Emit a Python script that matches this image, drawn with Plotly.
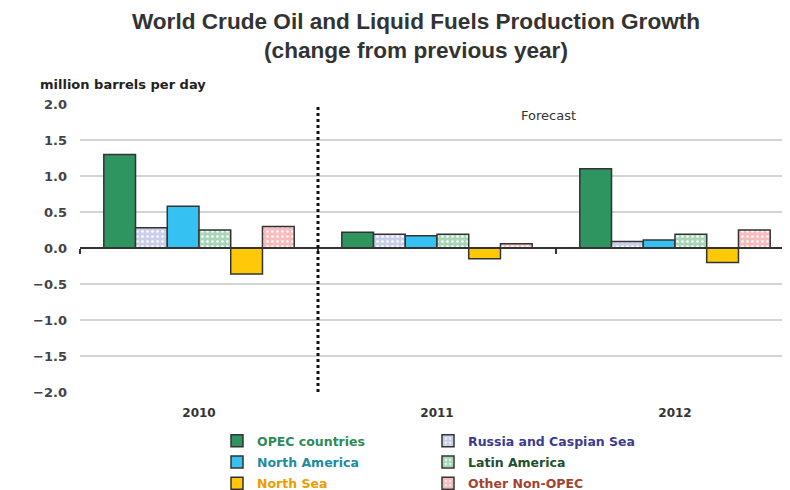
import plotly.graph_objects as go

years = ["2010", "2011", "2012"]
series_names = ["OPEC countries", "Russia and Caspian Sea", "North America",
                "Latin America", "North Sea", "Other Non-OPEC"]
opec = [1.30, 0.22, 1.10]
russia = [0.28, 0.19, 0.09]
north_america = [0.58, 0.17, 0.11]
latin_america = [0.25, 0.19, 0.19]
north_sea = [-0.36, -0.15, -0.20]
other_non_opec = [0.30, 0.06, 0.25]
y_ticks = [2.0, 1.5, 1.0, 0.5, 0.0, -0.5, -1.0, -1.5, -2.0]

values = [opec, russia, north_america, latin_america, north_sea, other_non_opec]
fills = ["#2e9460", "#c9cfea", "#35c2f2", "#a9d6b8", "#ffc90a", "#f8bcbc"]
patterned = [False, True, False, True, False, True]
text_colors = ["#2e8b57", "#3b3b8f", "#1b8ca3", "#1f4f2c", "#f29a00", "#a3432e"]
legend_ids = ["legend", "legend2", "legend", "legend2", "legend", "legend2"]

TITLE_FONT = "Liberation Sans, Arial, sans-serif"
FONT = "DejaVu Sans, sans-serif"

# the page body adds an 8px margin, so the figure is 8px smaller and
# layout positions are given in page pixels minus that offset
OFF = 8
W, H = 790 - OFF, 490 - OFF
L, T = 80 - OFF, 104 - OFF
PW, PH = 710, 288
R, B = W - L - PW, H - T - PH
CAT_W = 238  # pixel width of one category


def px(xp):
    return (xp - OFF - L) / PW


def py(yp):
    return (T + PH - (yp - OFF)) / PH


fig = go.Figure()
for name, vals, fill, pat, tc, lg in zip(series_names, values, fills, patterned,
                                         text_colors, legend_ids):
    marker = dict(color=fill, line=dict(color="#333333", width=1.5))
    if pat:
        marker["pattern"] = dict(shape=".", fgcolor="#ffffff", bgcolor=fill,
                                 size=5, solidity=0.22, fillmode="replace")
    fig.add_trace(go.Bar(
        x=years, y=vals,
        name=f"<span style='color:{tc}'><b>{name}</b></span>",
        marker=marker, legend=lg, legendgroup=name,
    ))

# helper trace for the category axis drawn along zero
fig.add_trace(go.Scatter(x=years, y=[None, None, None], xaxis="x2", yaxis="y",
                         mode="markers", showlegend=False, hoverinfo="skip"))

fig.add_vline(x=0.5, line=dict(color="#111111", width=3, dash="dot"))

fig.add_annotation(text="Forecast", xref="paper", yref="paper",
                   x=px(548), y=py(116), xanchor="center", yanchor="middle",
                   showarrow=False, font=dict(family=FONT, size=13, color="#333333"))

fig.add_annotation(text="<b>million barrels per day</b>", xref="paper", yref="paper",
                   x=px(38), y=py(84), xanchor="left", yanchor="middle",
                   showarrow=False, font=dict(family=FONT, size=13, color="#222222"))

legend_common = dict(orientation="v", xanchor="left", yanchor="top",
                     y=py(426), itemwidth=30, tracegroupgap=2,
                     font=dict(family=FONT, size=12.5),
                     bgcolor="rgba(0,0,0,0)")

fig.update_layout(
    width=W, height=H,
    margin=dict(l=L, r=R, t=T, b=B, autoexpand=False),
    paper_bgcolor="white", plot_bgcolor="white",
    title=dict(
        text="<b>World Crude Oil and Liquid Fuels Production Growth<br>(change from previous year)</b>",
        x=(416 - OFF) / W, xanchor="center", y=1 - 21 / H, yanchor="top",
        font=dict(family=TITLE_FONT, size=22.6, color="#333333"),
    ),
    barmode="group", bargap=0.2, bargroupgap=0,
    showlegend=True,
    legend=dict(x=px(257 - 40), **legend_common),
    legend2=dict(x=px(468 - 40), **legend_common),
    xaxis=dict(type="category", range=[-0.5, -0.5 + PW / CAT_W], showgrid=False,
               ticks="", showline=False, zeroline=False,
               ticklabelstandoff=12,
               tickfont=dict(family=FONT, size=12, color="#333333", weight="bold")),
    xaxis2=dict(type="category", matches="x", overlaying="x", anchor="free",
                position=0.5, side="bottom", showline=True, linecolor="#333333",
                linewidth=1.5, ticks="outside", tickson="boundaries", ticklen=5,
                tickcolor="#333333", tickwidth=1.5, showticklabels=False,
                showgrid=False, zeroline=False),
    yaxis=dict(range=[-2, 2], tickvals=y_ticks, tickformat=".1f",
               showgrid=True, gridcolor="#d4d4d4", gridwidth=1.5,
               zeroline=False, showline=False, ticks="",
               ticklabelstandoff=12,
               tickfont=dict(family=FONT, size=13, color="#444444", weight="bold")),
)

fig.write_html("out.html")
